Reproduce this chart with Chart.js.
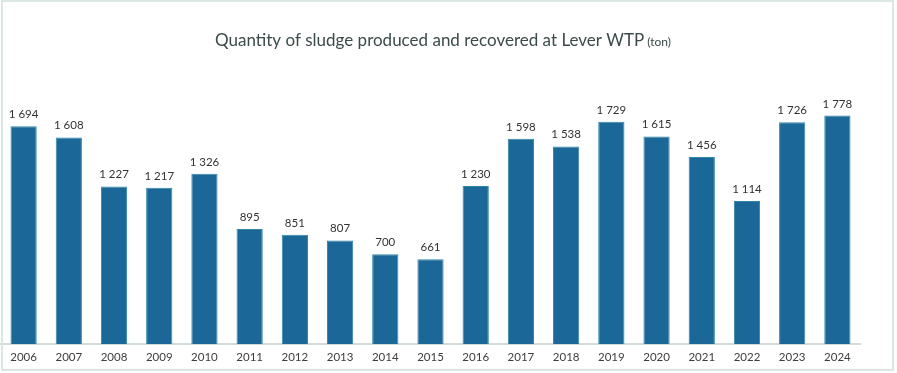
<!DOCTYPE html>
<html>
<head>
<meta charset="utf-8">
<script src="https://cdn.jsdelivr.net/npm/chart.js@4"></script>
<style>
  html, body { margin: 0; padding: 0; background: #fff; }
  #wrap { position: relative; width: 897px; height: 373px; }
  #frame { position: absolute; left: 1px; top: 0px; width: 889px; height: 367px;
           border: 2px solid #dbe7e5; pointer-events: none; }
</style>
</head>
<body>
<div id="wrap">
  <canvas id="sludgeChart" width="897" height="373"></canvas>
  <div id="frame"></div>
</div>
<script>
// data
const years = ['2006','2007','2008','2009','2010','2011','2012','2013','2014','2015',
               '2016','2017','2018','2019','2020','2021','2022','2023','2024'];
const sludge = [1694, 1608, 1227, 1217, 1326, 895, 851, 807, 700, 661,
                1230, 1598, 1538, 1729, 1615, 1456, 1114, 1726, 1778];

const titleMain = 'Quantity of sludge produced and recovered at Lever WTP';
const titleUnit = ' (ton)';
const fontFam = 'Lato, "Open Sans", sans-serif';

function fmt(v) {
    // thousands separated by a space
    return String(v).replace(/\B(?=(\d{3})+(?!\d))/g, ' ');
}

// labels above bars + title
const extras = {
    id: 'extras',
    afterDatasetsDraw(chart) {
        const c = chart.ctx;
        const meta = chart.getDatasetMeta(0);
        c.save();
        c.fillStyle = '#333';
        c.font = '11.5px ' + fontFam;
        c.textAlign = 'center';
        c.textBaseline = 'bottom';
        meta.data.forEach((bar, i) => {
            c.fillText(fmt(sludge[i]), bar.x, bar.y - 6);
        });

        // title in two sizes
        c.textBaseline = 'alphabetic';
        c.textAlign = 'left';
        c.fillStyle = '#3b4a4a';
        c.font = '17px ' + fontFam;
        const w1 = c.measureText(titleMain).width;
        c.font = '12px ' + fontFam;
        const w2 = c.measureText(titleUnit).width;
        let x = 443 - (w1 + w2) / 2;
        c.font = '17px ' + fontFam;
        c.fillText(titleMain, x, 46);
        c.font = '12px ' + fontFam;
        c.fillText(titleUnit, x + w1, 46);
        c.restore();
    }
};

new Chart(document.getElementById('sludgeChart'), {
    type: 'bar',
    data: {
        labels: years,
        datasets: [{
            data: sludge,
            backgroundColor: '#1b6797',
            borderColor: '#2f86a8',
            borderWidth: 1,
            categoryPercentage: 1,
            barPercentage: 0.58
        }]
    },
    options: {
        responsive: false,
        animation: false,
        layout: { padding: { left: 1, right: 37, top: 87, bottom: 3 } },
        plugins: { legend: { display: false }, tooltip: { enabled: false } },
        scales: {
            x: {
                grid: { display: false, drawTicks: false },
                border: { color: '#d3dcdb', width: 2 },
                ticks: { color: '#3d3d3d', font: { size: 11.5, family: fontFam }, padding: 6 }
            },
            y: { display: false, min: 0, max: 2000 }
        }
    },
    plugins: [extras]
});
</script>
</body>
</html>
